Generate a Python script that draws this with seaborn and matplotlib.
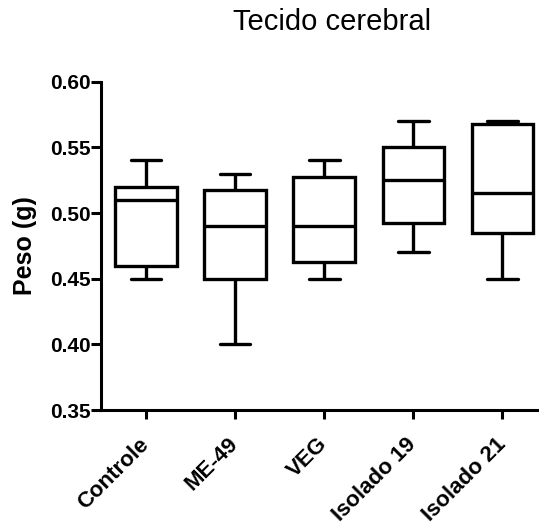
import matplotlib
matplotlib.use("Agg")
import matplotlib.pyplot as plt
import seaborn as sns
import pandas as pd
import numpy as np

# Five-number summaries: min, Q1, median, Q3, max
categories = ["Controle", "ME-49", "VEG", "Isolado 19", "Isolado 21"]
controle = [0.45, 0.46, 0.51, 0.52, 0.54]
me49 = [0.40, 0.45, 0.49, 0.5175, 0.53]
veg = [0.45, 0.4625, 0.49, 0.5275, 0.54]
isolado19 = [0.47, 0.4925, 0.525, 0.55, 0.57]
isolado21 = [0.45, 0.485, 0.515, 0.568, 0.570]
yticks = [0.35, 0.40, 0.45, 0.50, 0.55, 0.60]
title = "Tecido cerebral"
ylabel = "Peso (g)"

series = [controle, me49, veg, isolado19, isolado21]
df = pd.DataFrame({
    "grupo": np.repeat(categories, [len(s) for s in series]),
    "peso": np.concatenate(series),
})

sns.set_style("ticks")
plt.rcParams["font.family"] = ["Liberation Sans", "DejaVu Sans"]
plt.rcParams["text.color"] = "black"
plt.rcParams["axes.labelcolor"] = "black"
plt.rcParams["xtick.color"] = "black"
plt.rcParams["ytick.color"] = "black"

W, H = 539, 530
fig = plt.figure(figsize=(W / 100, H / 100), dpi=100)
ax = fig.add_axes([101 / W, 1 - 410 / H, 1 - 101 / W, (410 - 81.7) / H])

sns.boxplot(data=df, x="grupo", y="peso", order=categories, whis=(0, 100),
            width=0.69, color="white", linecolor="black", linewidth=2.4,
            ax=ax)

ax.set_ylim(0.35, 0.60)
ax.set_xlim(-0.505, 4.41)
ax.set_yticks(yticks)
ax.set_yticklabels([f"{v:.2f}" for v in yticks], fontsize=15, fontweight="bold")
ax.set_xticks(range(len(categories)))
ax.set_xticklabels(categories, fontsize=16, fontweight="bold", rotation=45,
                   ha="right", va="center", rotation_mode="anchor")
ax.set_xlabel("")
ax.set_ylabel(ylabel, fontsize=18, fontweight="bold", labelpad=9)

for s in ["top", "right"]:
    ax.spines[s].set_visible(False)
for s in ["left", "bottom"]:
    ax.spines[s].set_linewidth(2.2)
    ax.spines[s].set_color("black")
ax.tick_params(axis="y", length=7, width=2.2, pad=0.5, colors="black")
ax.tick_params(axis="x", length=6.5, width=2.2, pad=16, colors="black")

fig.text(332 / W, 1 - 22 / H, title, ha="center", va="center", fontsize=21,
         color="black")

fig.savefig("out.png", dpi=100)
